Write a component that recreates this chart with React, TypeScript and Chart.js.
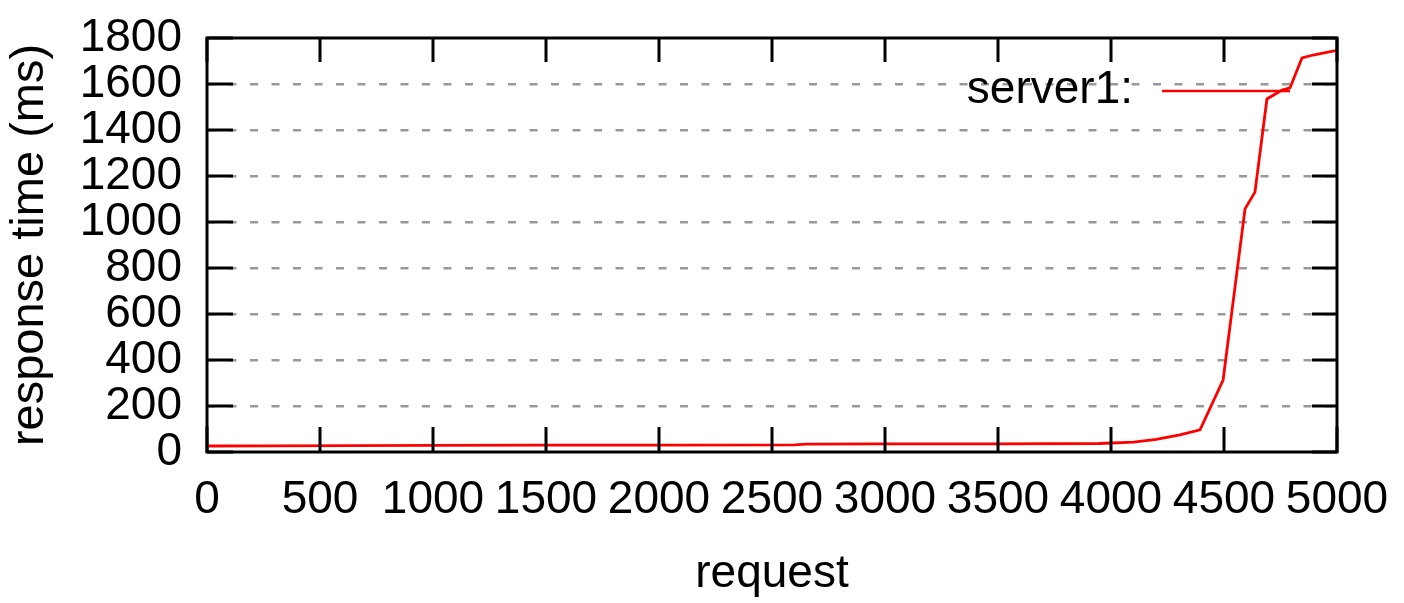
import React, { useEffect, useRef } from "react";
import { Chart, registerables } from "chart.js";

Chart.register(...registerables);

const requests = [0, 300, 1000, 1500, 2000, 2600, 2650, 3000, 3500, 3950, 4100, 4200, 4305, 4394, 4496, 4593, 4637, 4690, 4757, 4792, 4845, 4894, 4982, 5000];
const responseTimes = [26, 27, 29, 30, 30, 31, 34, 35, 35, 37, 43, 55, 74, 96, 313, 1057, 1130, 1535, 1574, 1583, 1713, 1726, 1743, 1745];
const xTickValues = [0, 500, 1000, 1500, 2000, 2500, 3000, 3500, 4000, 4500, 5000];
const yTickValues = [0, 200, 400, 600, 800, 1000, 1200, 1400, 1600, 1800];
const seriesLabel = "server1:";
const xTitle = "request";
const yTitle = "response time (ms)";

const FONT = "'Liberation Sans', Arial, sans-serif";

const framePlugin = {
  id: "gnuFrame",
  afterDatasetsDraw(chart: any) {
    const { ctx, chartArea, scales } = chart;
    const { left, right, top, bottom } = chartArea;
    const xs = scales.x;
    const ys = scales.y;
    ctx.save();
    ctx.strokeStyle = "#000";
    ctx.lineWidth = 3;
    ctx.beginPath();
    xs.ticks.forEach((t: any) => {
      const px = Math.round(xs.getPixelForValue(t.value));
      ctx.moveTo(px, bottom);
      ctx.lineTo(px, bottom - 25);
      ctx.moveTo(px, top);
      ctx.lineTo(px, top + 24);
    });
    ys.ticks.forEach((t: any) => {
      const py = Math.round(ys.getPixelForValue(t.value));
      ctx.moveTo(left, py);
      ctx.lineTo(left + 26, py);
      ctx.moveTo(right, py);
      ctx.lineTo(right - 25, py);
    });
    ctx.stroke();
    ctx.lineWidth = 3;
    ctx.strokeRect(left, top, right - left, bottom - top);

    // legend
    const ds = chart.data.datasets[0];
    ctx.font = "46px " + FONT;
    ctx.fillStyle = "#000";
    ctx.textAlign = "right";
    ctx.textBaseline = "alphabetic";
    ctx.fillText(ds.label, 1133, 103);
    ctx.strokeStyle = ds.borderColor;
    ctx.lineWidth = 2.5;
    ctx.beginPath();
    ctx.moveTo(1162, 91);
    ctx.lineTo(1290, 91);
    ctx.stroke();
    ctx.restore();
  },
};

export default function App() {
  const ref = useRef<HTMLCanvasElement | null>(null);
  useEffect(() => {
    document.body.style.margin = "0";
    const canvas = ref.current!;
    const chart = new Chart(canvas, {
      type: "line",
      data: {
        datasets: [
          {
            label: seriesLabel,
            data: requests.map((r, i) => ({ x: r, y: responseTimes[i] })),
            borderColor: "#ff0000",
            backgroundColor: "#ff0000",
            borderWidth: 2.8,
            pointRadius: 0,
            tension: 0,
            fill: false,
          },
        ],
      },
      options: {
        animation: false,
        responsive: false,
        devicePixelRatio: 1,
        layout: { padding: { left: 0, top: 38, right: 67, bottom: 0 } },
        plugins: { legend: { display: false }, tooltip: { enabled: false } },
        scales: {
          x: {
            type: "linear",
            min: 0,
            max: 5000,
            afterBuildTicks: (s: any) => {
              s.ticks = xTickValues.map((v) => ({ value: v }));
            },
            afterFit: (s: any) => {
              s.height = 151;
              s.paddingLeft = 0;
              s.paddingRight = 0;
            },
            grid: { display: false, drawTicks: false },
            border: { display: false },
            ticks: {
              color: "#000",
              font: { family: FONT, size: 46 },
              padding: 21,
              maxRotation: 0,
              autoSkip: false,
              callback: (v: any) => String(v),
            },
            title: {
              display: true,
              text: xTitle,
              color: "#000",
              font: { family: FONT, size: 46 },
              padding: { top: 0, bottom: 1 },
            },
          },
          y: {
            type: "linear",
            min: 0,
            max: 1800,
            afterBuildTicks: (s: any) => {
              s.ticks = yTickValues.map((v) => ({ value: v }));
            },
            afterFit: (s: any) => {
              s.width = 207;
              s.paddingTop = 0;
              s.paddingBottom = 0;
            },
            grid: {
              display: true,
              drawTicks: false,
              color: (c: any) =>
                c.tick && (c.tick.value === 0 || c.tick.value === 1800) ? "rgba(0,0,0,0)" : "#999999",
              lineWidth: 2.5,
            },
            border: { display: false, dash: [8, 13.5] },
            ticks: {
              color: "#000",
              font: { family: FONT, size: 46 },
              padding: 25,
              autoSkip: false,
              callback: (v: any) => String(v),
            },
            title: {
              display: true,
              text: yTitle,
              color: "#000",
              font: { family: FONT, size: 47 },
              padding: { top: 2, bottom: 0 },
            },
          },
        },
      },
      plugins: [framePlugin],
    } as any);
    return () => chart.destroy();
  }, []);
  return <canvas ref={ref} width={1404} height={603} style={{ display: "block" }} />;
}
